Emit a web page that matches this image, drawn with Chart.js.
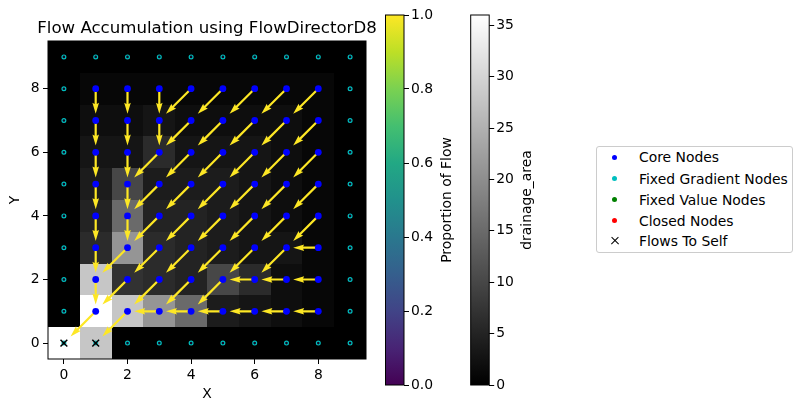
<!DOCTYPE html>
<html>
<head>
<meta charset="utf-8">
<script src="https://cdn.jsdelivr.net/npm/chart.js@4.4.1/dist/chart.umd.min.js"></script>
<style>
  body { margin: 0; background: #fff; }
  #wrap { position: relative; width: 803px; height: 412px; overflow: hidden; font-family: "DejaVu Sans", sans-serif; }
  #wrap canvas { position: absolute; top: 0; }
  #legend { position: absolute; left: 596px; top: 146px; width: 197px; height: 107px;
            border: 1px solid #cccccc; border-radius: 3px; box-sizing: border-box; background: #fff; }
  #legend .row { position: absolute; left: 0; height: 16px; line-height: 16px; font-size: 13.9px; color: #000; white-space: nowrap; }
  #legend .row span.txt { position: absolute; left: 42px; }
  #legend .dot { position: absolute; left: 15px; top: 5.5px; width: 5px; height: 5px; border-radius: 50%; }
  #legend .cross { position: absolute; left: 13.5px; top: 4px; width: 8px; height: 8px; }
  #legend .cross::before, #legend .cross::after { content: ""; position: absolute; left: -1px; top: 3.3px; width: 10px; height: 1.4px; background: #000; }
  #legend .cross::before { transform: rotate(45deg); }
  #legend .cross::after { transform: rotate(-45deg); }
</style>
</head>
<body>
<div id="wrap">
  <canvas id="main" width="414" height="412" style="left:0"></canvas>
  <canvas id="cbProp" width="80" height="412" style="left:380px"></canvas>
  <canvas id="cbArea" width="80" height="412" style="left:465px"></canvas>
  <div id="legend">
    <div class="row" style="top:2px"><span class="dot" style="background:#0000ff"></span><span class="txt">Core Nodes</span></div>
    <div class="row" style="top:23.5px"><span class="dot" style="background:#00bfbf"></span><span class="txt">Fixed Gradient Nodes</span></div>
    <div class="row" style="top:44.5px"><span class="dot" style="background:#008000"></span><span class="txt">Fixed Value Nodes</span></div>
    <div class="row" style="top:65.5px"><span class="dot" style="background:#ff0000"></span><span class="txt">Closed Nodes</span></div>
    <div class="row" style="top:86px"><span class="cross"></span><span class="txt">Flows To Self</span></div>
  </div>
</div>
<script>
// ---- data ----
const xTicks = [0, 2, 4, 6, 8];
const yTicks = [0, 2, 4, 6, 8];
const propTicks = [0, 0.2, 0.4, 0.6, 0.8, 1.0];
const propTickLabels = ['0.0', '0.2', '0.4', '0.6', '0.8', '1.0'];
const areaTicks = [0, 5, 10, 15, 20, 25, 30, 35];
const areaMax = 36;

// drainage area per node, row index = y (0 at bottom), column = x
const drainageArea = [
  [36, 28,  0,  0,  0,  0, 0, 0, 0, 0],
  [ 0, 36, 28, 21, 15,  4, 3, 2, 1, 0],
  [ 0, 28,  7,  6,  5, 10, 6, 2, 1, 0],
  [ 0,  6, 21,  6,  5,  4, 3, 3, 1, 0],
  [ 0,  5, 15,  5,  5,  4, 3, 2, 1, 0],
  [ 0,  4, 10,  4,  4,  4, 3, 2, 1, 0],
  [ 0,  3,  3,  6,  3,  3, 3, 2, 1, 0],
  [ 0,  2,  2,  3,  2,  2, 2, 2, 1, 0],
  [ 0,  1,  1,  1,  1,  1, 1, 1, 1, 0],
  [ 0,  0,  0,  0,  0,  0, 0, 0, 0, 0]
];

// D8 receiver direction per node (same layout)
const flowDir = [
  ['', '',   '',   '',   '',   '',   '',   '',   '',   ''],
  ['', 'SW', 'SW', 'W',  'W',  'W',  'W',  'W',  'W',  ''],
  ['', 'S',  'SW', 'SW', 'SW', 'SW', 'W',  'W',  'W',  ''],
  ['', 'S',  'SW', 'SW', 'SW', 'SW', 'SW', 'SW', 'W',  ''],
  ['', 'S',  'S',  'SW', 'SW', 'SW', 'SW', 'SW', 'SW', ''],
  ['', 'S',  'S',  'SW', 'SW', 'SW', 'SW', 'SW', 'SW', ''],
  ['', 'S',  'S',  'SW', 'SW', 'SW', 'SW', 'SW', 'SW', ''],
  ['', 'S',  'S',  'S',  'SW', 'SW', 'SW', 'SW', 'SW', ''],
  ['', 'S',  'S',  'S',  'SW', 'SW', 'SW', 'SW', 'SW', ''],
  ['', '',   '',   '',   '',   '',   '',   '',   '',   '']
];
const flowProportion = 1.0;

// node status: G = fixed gradient, C = core
const nodeStatus = [
  'GGGGGGGGGG',
  'GCCCCCCCCG',
  'GCCCCCCCCG',
  'GCCCCCCCCG',
  'GCCCCCCCCG',
  'GCCCCCCCCG',
  'GCCCCCCCCG',
  'GCCCCCCCCG',
  'GCCCCCCCCG',
  'GGGGGGGGGG'
];
const selfX = [0, 1];
const selfY = [0, 0];

const viridis = ['#440154', '#482475', '#414487', '#355f8d', '#2a788e', '#21918c',
                 '#22a884', '#44bf70', '#7ad151', '#bddf26', '#fde725'];

// ---- helpers ----
const FONT = { family: 'DejaVu Sans', size: 13.9 };
const dirVec = { S: [0, -1], SW: [-1, -1], W: [-1, 0] };

function viridisAt(t) {
  return viridis[Math.round(t * (viridis.length - 1))];
}

function nodesOf(code) {
  const pts = [];
  nodeStatus.forEach((row, y) => {
    row.split('').forEach((c, x) => { if (c === code) pts.push({ x, y }); });
  });
  return pts;
}

function drawArrow(ctx, x0, y0, x1, y1, color) {
  const dx = x1 - x0, dy = y1 - y0;
  const len = Math.hypot(dx, dy);
  const ux = dx / len, uy = dy / len, px = -uy, py = ux;
  const w = 2.2, hl = 5 * w, hal = 4.5 * w, hw = 3 * w;
  const pts = [[0, -w / 2], [len - hal, -w / 2], [len - hl, -hw / 2], [len, 0],
               [len - hl, hw / 2], [len - hal, w / 2], [0, w / 2]];
  ctx.beginPath();
  pts.forEach(([a, b], i) => {
    const X = x0 + ux * a + px * b, Y = y0 + uy * a + py * b;
    if (i) ctx.lineTo(X, Y); else ctx.moveTo(X, Y);
  });
  ctx.closePath();
  ctx.fillStyle = color;
  ctx.fill();
}

// heat map + flow arrows under the node markers, frame and title on top
const gridPlugin = {
  id: 'gridPlugin',
  beforeDatasetsDraw(chart) {
    const { ctx, scales: { x, y } } = chart;
    ctx.save();
    drainageArea.forEach((row, j) => {
      row.forEach((v, i) => {
        const l = Math.round(x.getPixelForValue(i - 0.5)), r = Math.round(x.getPixelForValue(i + 0.5));
        const t = Math.round(y.getPixelForValue(j + 0.5)), b = Math.round(y.getPixelForValue(j - 0.5));
        const g = Math.round(255 * Math.min(v, areaMax) / areaMax);
        ctx.fillStyle = `rgb(${g},${g},${g})`;
        ctx.fillRect(l, t, r - l, b - t);
      });
    });
    flowDir.forEach((row, j) => {
      row.forEach((d, i) => {
        if (!d) return;
        const [dx, dy] = dirVec[d];
        const k = 0.79;
        drawArrow(ctx, x.getPixelForValue(i), y.getPixelForValue(j),
                  x.getPixelForValue(i + dx * k), y.getPixelForValue(j + dy * k),
                  viridisAt(flowProportion));
      });
    });
    ctx.restore();
  },
  afterDatasetsDraw(chart) {
    const { ctx, chartArea: a } = chart;
    ctx.save();
    ctx.strokeStyle = '#000';
    ctx.lineWidth = 1;
    ctx.strokeRect(a.left, a.top, a.right - a.left, a.bottom - a.top);
    ctx.font = '16.6px "DejaVu Sans"';
    ctx.fillStyle = '#000';
    ctx.textAlign = 'center';
    ctx.textBaseline = 'alphabetic';
    ctx.fillText('Flow Accumulation using FlowDirectorD8', (a.left + a.right) / 2, 32.5);
    ctx.restore();
  }
};

new Chart(document.getElementById('main'), {
  type: 'scatter',
  data: {
    datasets: [
      { label: 'Flows To Self', data: selfX.map((v, i) => ({ x: v, y: selfY[i] })),
        pointStyle: 'crossRot', radius: 4.8, borderColor: '#000', borderWidth: 1.5, order: 0 },
      { label: 'Fixed Gradient Nodes', data: nodesOf('G'), pointStyle: 'circle',
        radius: 1.9, backgroundColor: '#12061f', borderColor: '#00bfbf', borderWidth: 1.2, order: 1 },
      { label: 'Core Nodes', data: nodesOf('C'), pointStyle: 'circle',
        radius: 3.4, backgroundColor: '#0000ff', borderWidth: 0, order: 2 }
    ]
  },
  options: {
    responsive: false, animation: false, devicePixelRatio: 1,
    layout: { padding: { top: 41, right: 48, bottom: 0, left: 0 } },
    plugins: { legend: { display: false }, tooltip: { enabled: false }, title: { display: false } },
    scales: {
      x: {
        type: 'linear', min: -0.5, max: 9.5,
        afterBuildTicks: s => { s.ticks = xTicks.map(v => ({ value: v })); },
        afterFit: s => { s.height = 53; },
        ticks: { font: FONT, color: '#000', padding: 3, maxRotation: 0, autoSkip: false },
        grid: { drawOnChartArea: false, drawTicks: true, tickLength: 5, color: '#000' },
        border: { display: false },
        title: { display: true, text: 'X', font: FONT, color: '#000', padding: { top: 0, bottom: 9 } }
      },
      y: {
        type: 'linear', min: -0.5, max: 9.5,
        afterBuildTicks: s => { s.ticks = yTicks.map(v => ({ value: v })); },
        afterFit: s => { s.width = 48; },
        ticks: { font: FONT, color: '#000', padding: 3.5, autoSkip: false },
        grid: { drawOnChartArea: false, drawTicks: true, tickLength: 5, color: '#000' },
        border: { display: false },
        title: { display: true, text: 'Y', font: FONT, color: '#000', padding: { top: 7, bottom: 0 } }
      }
    }
  },
  plugins: [gridPlugin]
});

function makeColorbar(id, max, ticks, labels, stops, label, padLeft, labelX) {
  const barPlugin = {
    id: 'bar_' + id,
    beforeDatasetsDraw(chart) {
      const { ctx, chartArea: a } = chart;
      const grad = ctx.createLinearGradient(0, a.bottom, 0, a.top);
      stops.forEach((c, i) => grad.addColorStop(i / (stops.length - 1), c));
      ctx.save();
      ctx.fillStyle = grad;
      ctx.fillRect(a.left, a.top, a.right - a.left, a.bottom - a.top);
      ctx.strokeStyle = '#000';
      ctx.lineWidth = 1;
      ctx.strokeRect(a.left, a.top, a.right - a.left, a.bottom - a.top);
      ctx.translate(labelX, (a.top + a.bottom) / 2);
      ctx.rotate(-Math.PI / 2);
      ctx.font = '13.9px "DejaVu Sans"';
      ctx.fillStyle = '#000';
      ctx.textAlign = 'center';
      ctx.textBaseline = 'middle';
      ctx.fillText(label, 0, 0);
      ctx.restore();
    }
  };
  new Chart(document.getElementById(id), {
    type: 'scatter',
    data: { datasets: [{ data: [] }] },
    options: {
      responsive: false, animation: false, devicePixelRatio: 1,
      layout: { padding: { top: 15, right: 0, bottom: 27, left: padLeft } },
      plugins: { legend: { display: false }, tooltip: { enabled: false } },
      scales: {
        x: { display: false },
        y: {
          type: 'linear', position: 'right', min: 0, max: max,
          afterBuildTicks: s => { s.ticks = ticks.map(v => ({ value: v })); },
          afterFit: s => { s.width = 80 - padLeft - 18.5; },
          ticks: { font: FONT, color: '#000', padding: 2, autoSkip: false,
                   callback: (v, i) => labels[i] },
          grid: { drawOnChartArea: false, drawTicks: true, tickLength: 5, color: '#000' },
          border: { display: false }
        }
      }
    },
    plugins: [barPlugin]
  });
}

makeColorbar('cbProp', 1, propTicks, propTickLabels, viridis, 'Proportion of Flow', 5.5, 67);
makeColorbar('cbArea', areaMax, areaTicks, areaTicks.map(String), ['#000000', '#ffffff'], 'drainage_area', 5.7, 62.5);
</script>
</body>
</html>
